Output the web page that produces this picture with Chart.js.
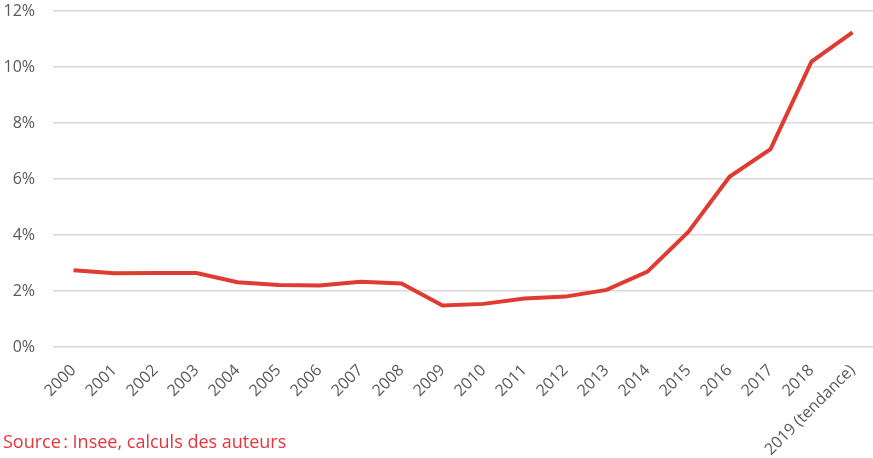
<!DOCTYPE html>
<html>
<head>
<meta charset="utf-8">
<script src="https://cdn.jsdelivr.net/npm/chart.js@4"></script>
<style>
  body { margin: 0; background: #fff; }
  #box { position: relative; width: 873px; height: 458px; }
  #source {
    position: absolute; left: 3px; top: 429px;
    font-family: "Open Sans", sans-serif; font-size: 18px; color: #e8333a;
  }
</style>
</head>
<body>
<div id="box">
  <canvas id="myChart"></canvas>
  <div id="source">Source&#8239;: Insee, calculs des auteurs</div>
</div>
<script>
// -------------------------------------------------------------------
const years = ["2000", "2001", "2002", "2003", "2004", "2005", "2006", "2007", "2008", "2009",
  "2010", "2011", "2012", "2013", "2014", "2015", "2016", "2017", "2018", "2019 (tendance)"];
const rates = [2.74, 2.63, 2.64, 2.64, 2.31, 2.21, 2.2, 2.33, 2.27, 1.48,
  1.54, 1.73, 1.8, 2.04, 2.69, 4.12, 6.08, 7.07, 10.19, 11.24];
const yTicks = [0, 2, 4, 6, 8, 10, 12];
// -------------------------------------------------------------------
const ctx = document.getElementById("myChart");
const tickColor = "#595959";

new Chart(ctx, {
  type: "line",
  data: {
    labels: years,
    datasets: [
      {
        data: rates,
        borderColor: "#df3b32",
        borderWidth: 4,
        pointRadius: 0,
        tension: 0,
      },
    ],
  },
  options: {
    responsive: true,
    maintainAspectRatio: false,
    animation: false,
    layout: { padding: { top: 11, left: 0, right: 0, bottom: 0 } },
    plugins: { legend: { display: false }, tooltip: { enabled: false } },
    scales: {
      x: {
        offset: true,
        grid: { display: false },
        border: { display: false },
        ticks: {
          color: tickColor,
          font: { family: "Open Sans", size: 16 },
          minRotation: 45,
          maxRotation: 45,
          padding: 6,
          autoSkip: false,
        },
        afterFit: (axis) => {
          axis.height = 111;
          axis.paddingTop = 0;
        },
      },
      y: {
        min: 0,
        max: 12,
        afterBuildTicks: (axis) => {
          axis.ticks = yTicks.map((v) => ({ value: v }));
        },
        grid: { color: "#d9d9d9", lineWidth: 1.5, drawTicks: false },
        border: { display: false },
        ticks: {
          color: tickColor,
          font: { family: "Open Sans", size: 16 },
          padding: 18,
          callback: (v) => v + "%",
        },
        afterFit: (axis) => {
          axis.width = 53;
          axis.paddingTop = 0;
          axis.paddingBottom = 0;
        },
      },
    },
  },
});
</script>
</body>
</html>
